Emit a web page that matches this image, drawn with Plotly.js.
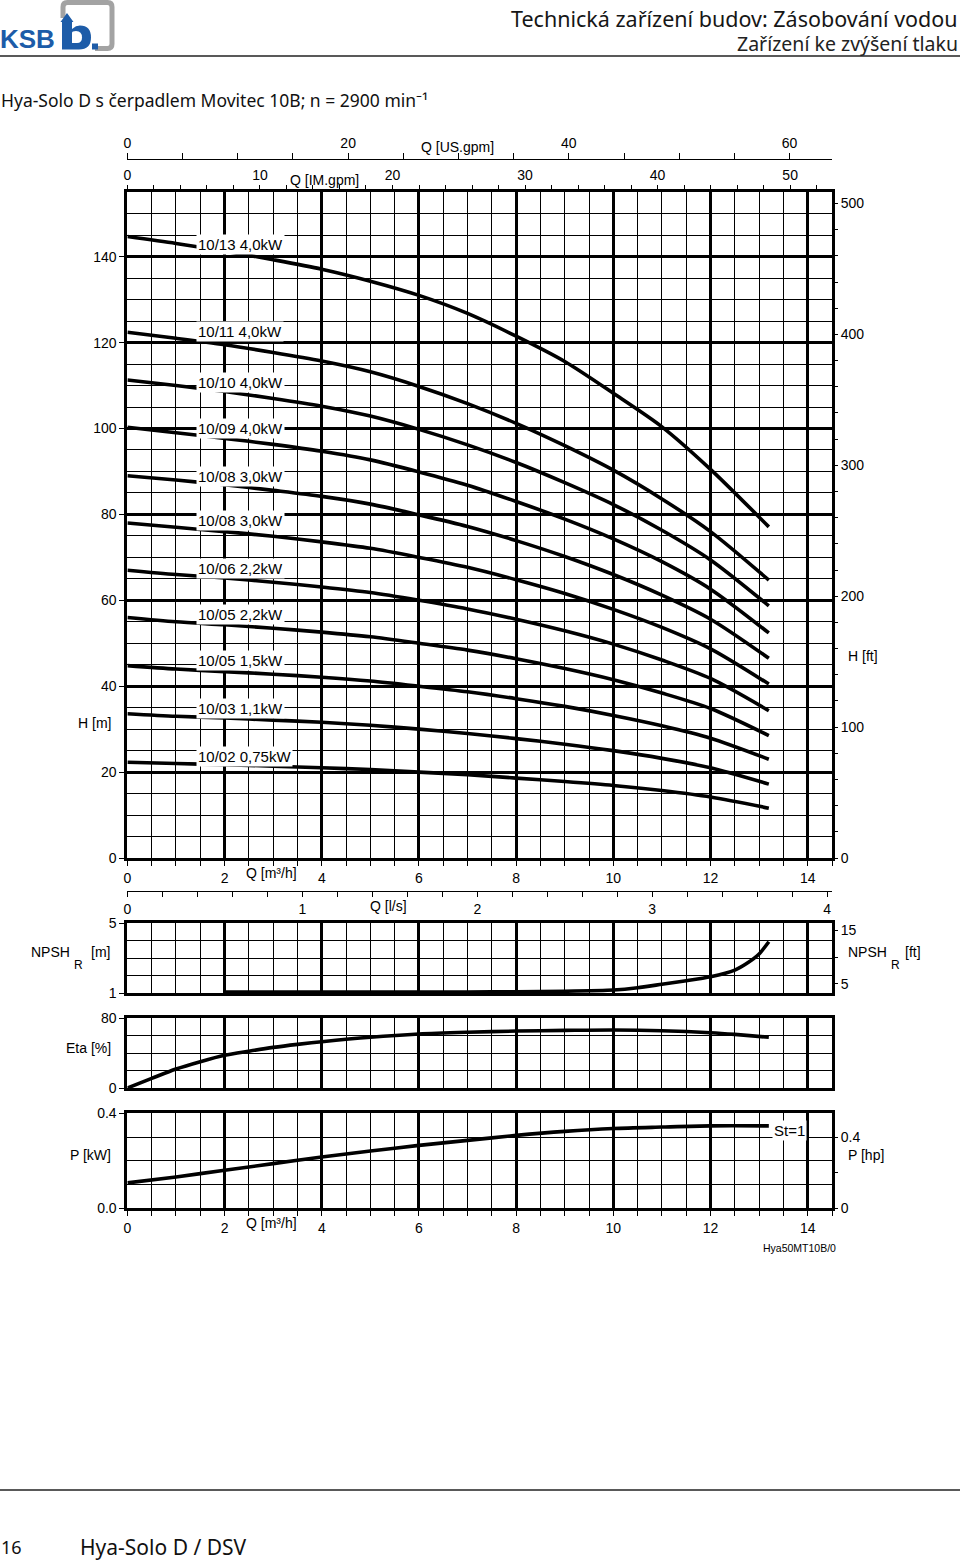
<!DOCTYPE html>
<html><head><meta charset="utf-8">
<script src="https://cdn.plot.ly/plotly-3.0.1.min.js"></script>
<style>html,body{margin:0;padding:0;background:#fff}#chart{width:960px;height:1560px}</style>
</head><body><div id="chart"></div>
<script>
// ---------- data ----------
const Q = [0,1,2,3,4,5,6,7,8,9,10,11,12,13.2];
const H_10_13 = [144.7,143.1,141.3,139.3,137.1,134.3,131.0,126.8,121.5,115.6,108.2,100.4,90.5,77.1];
const H_10_11 = [122.4,121.0,119.5,117.7,115.7,113.2,109.8,105.8,101.2,96.0,90.3,83.6,76.0,64.7];
const H_10_10 = [111.3,110.0,108.6,107.0,105.2,102.9,99.8,96.2,92.1,87.4,82.3,76.3,69.4,58.7];
const H_10_09 = [100.3,99.0,97.7,96.3,94.7,92.7,89.9,86.8,83.0,78.9,74.3,69.0,62.6,52.4];
const H_10_08 = [89.0,88.0,86.9,85.6,84.2,82.4,79.9,77.2,73.9,70.2,66.0,61.2,55.6,46.5];
const H_10_07 = [78.0,77.0,76.0,74.9,73.6,72.1,70.0,67.7,64.8,61.6,57.9,53.7,48.7,40.5];
const H_10_06 = [67.0,66.0,65.2,64.2,63.1,61.8,60.0,58.0,55.6,52.9,49.8,46.1,41.8,34.3];
const H_10_05 = [56.0,55.0,54.3,53.5,52.6,51.5,50.0,48.4,46.4,44.1,41.5,38.4,34.8,28.5];
const H_10_04 = [44.8,44.0,43.4,42.8,42.1,41.2,40.0,38.7,37.1,35.3,33.2,30.8,27.9,23.0];
const H_10_03 = [33.6,33.0,32.6,32.1,31.6,30.9,30.0,29.0,27.8,26.5,25.0,23.2,21.0,17.2];
const H_10_02 = [22.3,22.0,21.7,21.4,21.0,20.6,20.0,19.4,18.6,17.8,16.9,15.7,14.2,11.6];
const curveLabels = ['10/13 4,0kW','10/11 4,0kW','10/10 4,0kW','10/09 4,0kW','10/08 3,0kW','10/08 3,0kW','10/06 2,2kW','10/05 2,2kW','10/05 1,5kW','10/03 1,1kW','10/02 0,75kW'];

const npshQ = [2,4,6,7,8,9,10,10.5,11,11.5,12,12.5,12.75,13,13.2];
const npshM = [1.05,1.05,1.05,1.06,1.07,1.1,1.17,1.3,1.5,1.7,1.93,2.31,2.7,3.23,3.93];

const etaQ = [0,0.5,1,1.5,2,2.5,3,3.5,4,5,6,7,8,9,10,11,12,12.5,13.2];
const etaPct = [0,11,21.7,30.1,37.4,42.1,46.4,49.9,52.9,58,61.7,63.7,65.1,65.8,66.3,65.5,63.2,61.3,58];

const pQ = [0,1,2,3,4,5,6,7,8,9,10,11,12,13.2];
const pKW = [0.107,0.132,0.16,0.188,0.216,0.241,0.265,0.286,0.307,0.324,0.336,0.342,0.347,0.347];

// ---------- layout helpers ----------
const W = 960, HT = 1560;
const px = x => x / W;
const py = y => 1 - y / HT;
const FONT = 'Liberation Sans, Arial, sans-serif';
const HFONT = 'Noto Sans, Open Sans, sans-serif';
const curves = [H_10_13,H_10_11,H_10_10,H_10_09,H_10_08,H_10_07,H_10_06,H_10_05,H_10_04,H_10_03,H_10_02];
const labelH = [142.9,122.5,110.8,99.9,88.9,78.5,67.5,56.8,45.9,34.9,23.7];

const QMAX = 14.5, HMAX = 155;
const XDOM = [px(127.4), px(832)];

function gridX(anchor, labels) {
  return {
    domain: XDOM, anchor: anchor, range: [0, QMAX], fixedrange: true,
    tickmode: 'linear', tick0: 0, dtick: 2,
    showgrid: true, gridcolor: '#000', gridwidth: 3, zeroline: false,
    showline: true, linecolor: '#000', linewidth: 3, mirror: true,
    showticklabels: labels, ticks: labels ? 'outside' : '', ticklen: 5, tickwidth: 1, tickcolor: '#000',
    tickfont: {family: FONT, size: 14, color: '#000'},
    minor: {tickmode: 'linear', tick0: 0, dtick: 0.5, showgrid: true, gridcolor: '#000', gridwidth: 1,
            ticks: labels ? 'outside' : '', ticklen: 5, tickwidth: 1, tickcolor: '#000'}
  };
}
function boxY(dom, range, extra) {
  return Object.assign({
    domain: dom, range: range, fixedrange: true, zeroline: false,
    showline: true, linecolor: '#000', linewidth: 3, mirror: true,
    ticks: 'outside', ticklen: 5, tickwidth: 1, tickcolor: '#000',
    tickfont: {family: FONT, size: 14, color: '#000'}
  }, extra);
}
function rightY(over, range, extra) {
  return Object.assign({
    overlaying: over, side: 'right', range: range, fixedrange: true, zeroline: false,
    showgrid: false, showline: false, ticks: 'outside', ticklen: 5, tickwidth: 1, tickcolor: '#000',
    tickfont: {family: FONT, size: 14, color: '#000'}
  }, extra);
}
function auxX(extra) {
  return Object.assign({
    overlaying: 'x', fixedrange: true, zeroline: false, showgrid: false,
    ticks: 'outside', ticklen: 6, tickwidth: 1, tickcolor: '#000',
    linecolor: '#000', linewidth: 1,
    tickfont: {family: FONT, size: 14, color: '#000'}
  }, extra);
}

// ---------- traces ----------
const traces = [];
curves.forEach((h, i) => traces.push({
  x: Q, y: h, xaxis: 'x', yaxis: 'y', mode: 'lines', type: 'scatter',
  line: {color: '#000', width: 3.6, shape: 'spline', smoothing: 0.8},
  hoverinfo: 'skip', showlegend: false, name: curveLabels[i]
}));
traces.push({x: npshQ, y: npshM, xaxis: 'x2', yaxis: 'y3', mode: 'lines',
  line: {color: '#000', width: 3.6, shape: 'spline', smoothing: 0.6}, hoverinfo: 'skip', showlegend: false});
traces.push({x: etaQ, y: etaPct, xaxis: 'x3', yaxis: 'y5', mode: 'lines',
  line: {color: '#000', width: 3.6, shape: 'spline', smoothing: 0.8}, hoverinfo: 'skip', showlegend: false});
traces.push({x: pQ, y: pKW, xaxis: 'x4', yaxis: 'y6', mode: 'lines',
  line: {color: '#000', width: 3.6, shape: 'spline', smoothing: 0.8}, hoverinfo: 'skip', showlegend: false});
// helper traces that register the secondary unit axes
[['x','y2'],['x2','y4'],['x4','y7'],['x5','y'],['x6','y'],['x7','y']].forEach(([xa, ya]) =>
  traces.push({x: [null], y: [null], xaxis: xa, yaxis: ya, mode: 'markers', hoverinfo: 'skip', showlegend: false}));

// ---------- annotations ----------
const ann = [];
function txt(text, x, y, xa, size, extra) {
  ann.push(Object.assign({text: text, x: px(x), y: py(y), xref: 'paper', yref: 'paper',
    xanchor: xa || 'center', yanchor: 'middle', showarrow: false,
    font: {family: FONT, size: size || 14, color: '#000'}}, extra || {}));
}
txt('Technická zařízení budov: Zásobování vodou', 960, 19, 'right', 21.5, {font: {family: HFONT, size: 21.5, color: '#161616'}});
txt('Zařízení ke zvýšení tlaku', 960, 43, 'right', 19.5, {font: {family: HFONT, size: 19.5, color: '#222'}});
txt('Hya-Solo D s čerpadlem Movitec 10B; n = 2900 min⁻¹', -1, 100, 'left', 17.5, {font: {family: HFONT, size: 17.5, color: '#111'}});
txt('<b>KSB</b>', -2, 39, 'left', 26, {font: {family: FONT, size: 26, color: '#1d5ca8'}});
txt('Q [US.gpm]', 457, 147);
txt('Q [IM.gpm]', 324, 180);
txt('Q [m³/h]', 271, 873);
txt('Q [l/s]', 388, 906);
txt('Q [m³/h]', 271, 1223);
txt('H [m]', 113, 723, 'right');
txt('H [ft]', 846, 656, 'left');
txt('NPSH', 29, 952, 'left');
txt('R', 78, 965, 'center', 12);
txt('[m]', 89, 952, 'left');
txt('NPSH', 846, 952, 'left');
txt('R', 895, 965, 'center', 12);
txt('[ft]', 903, 952, 'left');
txt('Eta [%]', 113, 1048, 'right');
txt('P [kW]', 113, 1155, 'right');
txt('P [hp]', 846, 1155, 'left');
txt('Hya50MT10B/0', 799, 1248, 'center', 10.5);
txt('16', -1, 1547, 'left', 18, {font: {family: HFONT, size: 18, color: '#111'}});
txt('Hya-Solo D / DSV', 78, 1547, 'left', 21, {font: {family: HFONT, size: 21, color: '#111'}});
curveLabels.forEach((t, i) => ann.push({
  text: t, x: 1.41, y: labelH[i], xref: 'x', yref: 'y', xanchor: 'left', yanchor: 'middle',
  showarrow: false, bgcolor: '#fff', borderpad: 1, font: {family: FONT, size: 15, color: '#000'}
}));
ann.push({text: 'St=1', x: 13.62, y: 0.3255, xref: 'x4', yref: 'y6', xanchor: 'center', yanchor: 'middle',
  showarrow: false, bgcolor: '#fff', borderpad: 1, font: {family: FONT, size: 15, color: '#000'}});

// ---------- shapes ----------
const P = (x, y) => px(x).toFixed(5) + ',' + py(y).toFixed(5);
const shapes = [
  {type: 'line', xref: 'paper', yref: 'paper', x0: 0, x1: 1, y0: py(56), y1: py(56), line: {color: '#222', width: 1.6}},
  {type: 'line', xref: 'paper', yref: 'paper', x0: 0, x1: 1, y0: py(1490), y1: py(1490), line: {color: '#222', width: 1.6}},
  // KSB logo: grey frame
  {type: 'path', xref: 'paper', yref: 'paper',
   path: `M${P(63,18)} L${P(63,7)} Q${P(63,2.5)} ${P(67.5,2.5)} L${P(107.5,2.5)} Q${P(112,2.5)} ${P(112,7)} L${P(112,44)} Q${P(112,48.5)} ${P(107.5,48.5)} L${P(95,48.5)}`,
   line: {color: '#a3a3a3', width: 5}},
  // blue "b"
  {type: 'path', xref: 'paper', yref: 'paper',
   path: `M${P(60.5,22)} L${P(67,13)} L${P(73.5,22)} L${P(72,22)} L${P(72,29)} Q${P(76,25.5)} ${P(80,25.5)} Q${P(91,25.5)} ${P(91,37.5)} Q${P(91,49.5)} ${P(79,49.5)} L${P(62,49.5)} L${P(62,22)} Z`,
   fillcolor: '#1d5ca8', line: {width: 0}},
  {type: 'path', xref: 'paper', yref: 'paper',
   path: `M${P(72,33)} Q${P(72,31)} ${P(76,31)} Q${P(82,31)} ${P(82,37.5)} Q${P(82,43)} ${P(77,43)} L${P(72,43)} Z`,
   fillcolor: '#fff', line: {width: 0}},
  {type: 'rect', xref: 'paper', yref: 'paper', x0: px(92), x1: px(98), y0: py(49.5), y1: py(43.5),
   fillcolor: '#1d5ca8', line: {width: 0}}
];

// ---------- layout ----------
const layout = {
  width: W, height: HT, margin: {l: 0, r: 0, t: 0, b: 0},
  paper_bgcolor: '#fff', plot_bgcolor: 'rgba(0,0,0,0)',
  font: {family: FONT, size: 14, color: '#000'},
  showlegend: false,
  xaxis: gridX('y', true),
  xaxis2: gridX('y3', false),
  xaxis3: gridX('y5', false),
  xaxis4: gridX('y6', true),
  yaxis: boxY([py(858), py(192.3)], [0, HMAX], {
    tickmode: 'linear', tick0: 0, dtick: 20, showgrid: true, gridcolor: '#000', gridwidth: 3,
    minor: {tickmode: 'linear', tick0: 0, dtick: 5, showgrid: true, gridcolor: '#000', gridwidth: 1, ticks: ''}
  }),
  yaxis2: rightY('y', [0, HMAX / 0.3048], {
    tickmode: 'linear', tick0: 0, dtick: 100,
    minor: {tickmode: 'linear', tick0: 0, dtick: 20, ticks: 'outside', ticklen: 5, tickwidth: 1, tickcolor: '#000', showgrid: false}
  }),
  yaxis3: boxY([py(993), py(923)], [1, 5], {
    tickmode: 'array', tickvals: [1, 5], showgrid: false,
    minor: {tickmode: 'linear', tick0: 1, dtick: 1, showgrid: true, gridcolor: '#000', gridwidth: 1, ticks: ''}
  }),
  yaxis4: rightY('y3', [1 / 0.3048, 5 / 0.3048], {tickmode: 'array', tickvals: [5, 10, 15], ticktext: ['5', '', '15']}),
  yaxis5: boxY([py(1088), py(1018)], [0, 80], {
    tickmode: 'array', tickvals: [0, 80], showgrid: false,
    minor: {tickmode: 'linear', tick0: 0, dtick: 20, showgrid: true, gridcolor: '#000', gridwidth: 1, ticks: ''}
  }),
  yaxis6: boxY([py(1208.3), py(1113.3)], [0, 0.4], {
    tickmode: 'array', tickvals: [0, 0.4], ticktext: ['0.0', '0.4'], showgrid: false,
    minor: {tickmode: 'linear', tick0: 0, dtick: 0.1, showgrid: true, gridcolor: '#000', gridwidth: 1, ticks: ''}
  }),
  yaxis7: rightY('y6', [0, 0.4 / 0.7457], {tickmode: 'array', tickvals: [0, 0.2, 0.4], ticktext: ['0', '', '0.4']}),
  xaxis5: auxX({anchor: 'free', position: py(159.3), side: 'top', showline: true,
    range: [0, QMAX / 0.2271247], tickmode: 'linear', tick0: 0, dtick: 20,
    minor: {tickmode: 'linear', tick0: 0, dtick: 5, ticks: 'outside', ticklen: 6, tickwidth: 1, tickcolor: '#000', showgrid: false}}),
  xaxis6: auxX({anchor: 'y', side: 'top', showline: false,
    range: [0, QMAX / 0.2727654], tickmode: 'linear', tick0: 0, dtick: 10,
    minor: {tickmode: 'linear', tick0: 0, dtick: 2, ticks: 'outside', ticklen: 6, tickwidth: 1, tickcolor: '#000', showgrid: false}}),
  xaxis7: auxX({anchor: 'free', position: py(891), side: 'bottom', showline: true, ticklen: 5,
    range: [0, QMAX / 3.6], tickmode: 'linear', tick0: 0, dtick: 1,
    minor: {tickmode: 'linear', tick0: 0, dtick: 0.2, ticks: 'outside', ticklen: 5, tickwidth: 1, tickcolor: '#000', showgrid: false}}),
  annotations: ann,
  shapes: shapes
};

Plotly.newPlot('chart', traces, layout, {staticPlot: true, displayModeBar: false});
</script>
</body></html>
